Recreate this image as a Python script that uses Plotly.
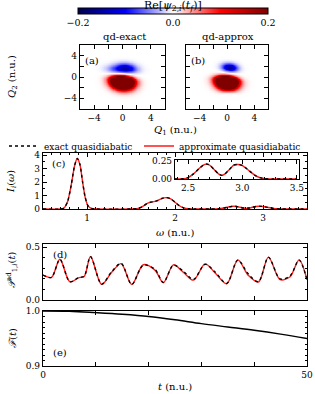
import numpy as np
import plotly.graph_objects as go

W, H = 315, 394

# ---------------- data ----------------
# panel (c): spectrum I_i(omega)
omega = [0.50, 0.70, 0.74, 0.78, 0.82, 0.86, 0.89, 0.92, 0.95, 0.98, 1.01, 1.05, 1.10,
         1.50, 1.58, 1.63, 1.68, 1.72, 1.76, 1.80, 1.85, 1.90, 1.95, 2.00, 2.05, 2.10, 2.16, 2.22,
         2.40, 2.46, 2.50, 2.55, 2.60, 2.64, 2.67, 2.70, 2.74, 2.78, 2.81, 2.84, 2.88, 2.92, 2.96,
         3.00, 3.04, 3.08, 3.12, 3.16, 3.21, 3.28, 3.50]
I_exact = [0.0, 0.0, 0.08, 0.55, 1.75, 3.25, 3.75, 3.30, 2.00, 0.85, 0.25, 0.04, 0.0,
           0.0, 0.04, 0.18, 0.40, 0.50, 0.55, 0.62, 0.78, 0.85, 0.76, 0.50, 0.24, 0.08, 0.015, 0.0,
           0.0, 0.004, 0.02, 0.07, 0.14, 0.19, 0.205, 0.19, 0.13, 0.07, 0.05, 0.07, 0.13, 0.19, 0.20,
           0.185, 0.14, 0.09, 0.045, 0.018, 0.004, 0.0, 0.0]
I_approx = [0.0, 0.0, 0.08, 0.55, 1.74, 3.24, 3.74, 3.29, 2.00, 0.85, 0.25, 0.04, 0.0,
            0.0, 0.04, 0.18, 0.40, 0.50, 0.55, 0.62, 0.77, 0.84, 0.75, 0.50, 0.24, 0.08, 0.015, 0.0,
            0.0, 0.004, 0.02, 0.07, 0.14, 0.19, 0.203, 0.188, 0.13, 0.07, 0.05, 0.07, 0.13, 0.19, 0.198,
            0.183, 0.14, 0.09, 0.045, 0.018, 0.004, 0.0, 0.0]

# panel (d): adiabatic population P^ad_{1,i}(t)
t_pop = [0.0, 1.6, 3.2, 5.1, 6.8, 7.8, 9.0, 11.1, 13.0, 14.8, 16.8, 19.0, 21.2, 22.8,
         24.7, 26.6, 28.5, 30.7, 32.6, 34.8, 36.9, 38.9, 40.8, 42.7, 44.9, 46.8, 48.5, 50.0]
P_exact = [0.236, 0.214, 0.384, 0.173, 0.214, 0.225, 0.410, 0.150, 0.267, 0.346, 0.148, 0.330,
           0.290, 0.167, 0.330, 0.272, 0.195, 0.337, 0.265, 0.157, 0.377, 0.245, 0.173, 0.403,
           0.200, 0.228, 0.377, 0.190]
P_approx = [0.236, 0.214, 0.386, 0.172, 0.212, 0.222, 0.412, 0.148, 0.262, 0.344, 0.146, 0.334,
            0.283, 0.163, 0.333, 0.262, 0.188, 0.342, 0.256, 0.153, 0.380, 0.232, 0.170, 0.406,
            0.193, 0.220, 0.380, 0.192]

# panel (e): fidelity F(t)
t_fid = [0, 5, 10, 15, 20, 25, 30, 35, 40, 45, 50]
F_fid = [1.000, 0.9995, 0.997, 0.994, 0.990, 0.984, 0.977, 0.971, 0.965, 0.958, 0.950]

# panels (a),(b): lobes of Re[psi_{2,i}(t_f)] read from the maps
# centre Q1, centre Q2, amplitude, width in Q1, upper / lower width in Q2, shear
exact_q1 = [-0.05, 0.50, -1.00]
exact_q2 = [-0.75, 1.60, 1.40]
exact_amp = [0.80, -0.14, -0.05]
exact_sx = [1.00, 1.00, 1.00]
exact_sy_up = [0.55, 0.65, 0.55]
exact_sy_dn = [0.93, 0.50, 0.50]
exact_shear = [0.10, 0.10, 0.10]

approx_q1 = [-0.05, 0.40, 0.25]
approx_q2 = [-0.75, 1.75, -3.05]
approx_amp = [0.80, -0.16, -0.025]
approx_sx = [1.00, 0.78, 0.85]
approx_sy_up = [0.55, 0.55, 0.38]
approx_sy_dn = [0.93, 0.48, 0.38]
approx_shear = [0.10, 0.10, 0.0]

q_grid = np.linspace(-6, 6, 161)

cbar_ticks = [-0.2, 0.0, 0.2]
cbar_text = ["\u22120.2", "0.0", "0.2"]


def field(q1c, q2c, amp, sx, syu, syd, shear):
    X, Y = np.meshgrid(q_grid, q_grid)
    z = np.zeros_like(X)
    for a, b, c, d, eu, ed, s in zip(q1c, q2c, amp, sx, syu, syd, shear):
        dy = (Y - b) + s * (X - a)
        sy = np.where(dy > 0, eu, ed)
        z += c * np.exp(-((X - a) ** 2) / (2 * d * d) - dy ** 2 / (2 * sy * sy))
    return z


z_exact = field(exact_q1, exact_q2, exact_amp, exact_sx, exact_sy_up, exact_sy_dn, exact_shear)
z_approx = field(approx_q1, approx_q2, approx_amp, approx_sx, approx_sy_up, approx_sy_dn, approx_shear)

# ---------------- layout helpers ----------------
FONT = "DejaVu Serif"


def px(x):
    return x / W


def py(y):
    return 1 - y / H


seismic = [[0.0, "rgb(0,0,77)"], [0.25, "rgb(0,0,255)"], [0.5, "rgb(255,255,255)"],
           [0.75, "rgb(255,0,0)"], [1.0, "rgb(128,0,0)"]]

fig = go.Figure()

fig.add_trace(go.Heatmap(
    x=q_grid, y=q_grid, z=z_exact, zmin=-0.2, zmax=0.2, colorscale=seismic, zsmooth="best",
    xaxis="x", yaxis="y", showscale=True,
    colorbar=dict(orientation="h", x=px(173), xanchor="center", y=py(16.5), yanchor="middle",
                  len=190, lenmode="pixels", thickness=6, xpad=0, ypad=0,
                  outlinecolor="black", outlinewidth=1,
                  tickvals=cbar_ticks, ticktext=cbar_text, ticks="",
                  tickfont=dict(family=FONT, size=9.5, color="black")),
))
fig.add_trace(go.Heatmap(
    x=q_grid, y=q_grid, z=z_approx, zmin=-0.2, zmax=0.2, colorscale=seismic, zsmooth="best",
    xaxis="x2", yaxis="y2", showscale=False,
))

red = "#ff1a1a"
# panel (c)
for xa, ya, show in [("x3", "y3", True), ("x4", "y4", False)]:
    fig.add_trace(go.Scatter(x=omega, y=I_approx, mode="lines", line=dict(color=red, width=1.4, shape="spline", smoothing=0.6),
                             name="approximate quasidiabatic", xaxis=xa, yaxis=ya, showlegend=show, legend="legend2"))
    fig.add_trace(go.Scatter(x=omega, y=I_exact, mode="lines", line=dict(color="black", width=1.4, dash="dot", shape="spline", smoothing=0.6),
                             name="exact quasidiabatic", xaxis=xa, yaxis=ya, showlegend=show, legend="legend"))
# panel (d)
fig.add_trace(go.Scatter(x=t_pop, y=P_approx, mode="lines", line=dict(color=red, width=1.4, shape="spline", smoothing=0.9),
                         xaxis="x5", yaxis="y5", showlegend=False))
fig.add_trace(go.Scatter(x=t_pop, y=P_exact, mode="lines", line=dict(color="black", width=1.4, dash="dot", shape="spline", smoothing=0.9),
                         xaxis="x5", yaxis="y5", showlegend=False))
# panel (e)
fig.add_trace(go.Scatter(x=t_fid, y=F_fid, mode="lines", line=dict(color="black", width=1.4, shape="spline"),
                         xaxis="x6", yaxis="y6", showlegend=False))

tickfont = dict(family=FONT, size=9, color="black")
common = dict(showline=True, linecolor="black", linewidth=1.2, mirror="ticks", ticks="inside",
              ticklen=3.5, tickwidth=0.8, tickcolor="black", showgrid=False, zeroline=False,
              tickfont=tickfont, automargin=False, ticklabeloverflow="allow")
minor = dict(ticks="inside", ticklen=2, tickwidth=0.6, tickcolor="black", showgrid=False)

qt = [-4, -2, 0, 2, 4]
qtt = ["\u22124", "", "0", "", "4"]
legfont = dict(family=FONT, size=9, color="black")
fig.update_layout(
    width=W, height=H, margin=dict(l=0, r=0, t=0, b=0),
    paper_bgcolor="white", plot_bgcolor="white",
    font=dict(family=FONT, size=9, color="black"),
    xaxis=dict(domain=[px(80), px(165)], range=[-6, 6], anchor="y", tickvals=qt, ticktext=qtt, **common),
    yaxis=dict(domain=[py(109), py(45)], range=[-6, 6], anchor="x", tickvals=qt, ticktext=qtt, **common),
    xaxis2=dict(domain=[px(186), px(268)], range=[-6, 6], anchor="y2", tickvals=qt, ticktext=qtt, **common),
    yaxis2=dict(domain=[py(109), py(45)], range=[-6, 6], anchor="x2", tickvals=qt, showticklabels=False, **common),
    xaxis3=dict(domain=[px(43), px(307)], range=[0.5, 3.5], anchor="y3", tickvals=[1, 2, 3],
                minor=dict(dtick=0.1, **minor), **common),
    yaxis3=dict(domain=[py(209), py(153)], range=[0, 4.15], anchor="x3", tickvals=[0, 1, 2, 3, 4],
                minor=dict(dtick=0.5, **minor), **common),
    xaxis4=dict(domain=[px(175), px(299)], range=[2.38, 3.52], anchor="y4", tickvals=[2.5, 3.0, 3.5],
                ticktext=["2.5", "3.0", "3.5"], minor=dict(dtick=0.1, **minor), **common),
    yaxis4=dict(domain=[py(179), py(160)], range=[0, 0.26], anchor="x4", tickvals=[0, 0.25],
                ticktext=["0.00", "0.25"], **common),
    xaxis5=dict(domain=[px(43), px(307)], range=[0, 50], anchor="y5", tickvals=[0, 10, 20, 30, 40, 50],
                showticklabels=False, **common),
    yaxis5=dict(domain=[py(300), py(244)], range=[0, 0.53], anchor="x5", tickvals=[0, 0.5],
                ticktext=["0.0", "0.5"], minor=dict(dtick=0.1, **minor), **common),
    xaxis6=dict(domain=[px(43), px(307)], range=[0, 50], anchor="y6", tickvals=[0, 10, 20, 30, 40, 50],
                ticktext=["0", "", "", "", "", "50"], **common),
    yaxis6=dict(domain=[py(366), py(311)], range=[0.9, 1.0], anchor="x6", tickvals=[0.9, 1.0],
                ticktext=["0.9", "1.0"], minor=dict(dtick=0.01, **minor), **common),
    legend=dict(orientation="h", x=px(4), xanchor="left", y=py(146), yanchor="middle",
                font=legfont, bgcolor="rgba(0,0,0,0)", itemwidth=30),
    legend2=dict(orientation="h", x=px(139), xanchor="left", y=py(146), yanchor="middle",
                 font=legfont, bgcolor="rgba(0,0,0,0)", itemwidth=30),
)


def ann(text, x, y, size=10, angle=0, xanchor="center"):
    fig.add_annotation(text=text, x=px(x), y=py(y), xref="paper", yref="paper", showarrow=False,
                       textangle=angle, xanchor=xanchor, yanchor="middle",
                       font=dict(family=FONT, size=size, color="black"))


ann("Re[<i>ψ</i><sub>2,<i>i</i></sub>(<i>t<sub>f</sub></i>)]", 173, 6, size=11)
ann("qd-exact", 124, 36)
ann("qd-approx", 228, 36)
ann("<i>Q</i><sub>2</sub> (n.u.)", 13, 77, angle=-90)
ann("<i>Q</i><sub>1</sub> (n.u.)", 175, 130)
ann("(a)", 83, 60, xanchor="left")
ann("(b)", 189, 60, xanchor="left")
ann("(c)", 50, 163, xanchor="left")
ann("(d)", 51, 254, xanchor="left")
ann("(e)", 51, 352, xanchor="left")
ann("<i>I<sub>i</sub></i>(<i>ω</i>)", 12, 182, angle=-90)
ann("<i>ω</i> (n.u.)", 175, 232)
ann("<i>𝒫</i><sup>ad</sup><sub>1,<i>i</i></sub>(<i>t</i>)", 12, 270, angle=-90)
ann("<i>ℱ</i>(<i>t</i>)", 12, 338, angle=-90)
ann("<i>t</i> (n.u.)", 175, 386)

fig.write_html("out.html", config={"displayModeBar": False},
               post_script="document.body.style.margin='0px';document.body.style.overflow='hidden';")
